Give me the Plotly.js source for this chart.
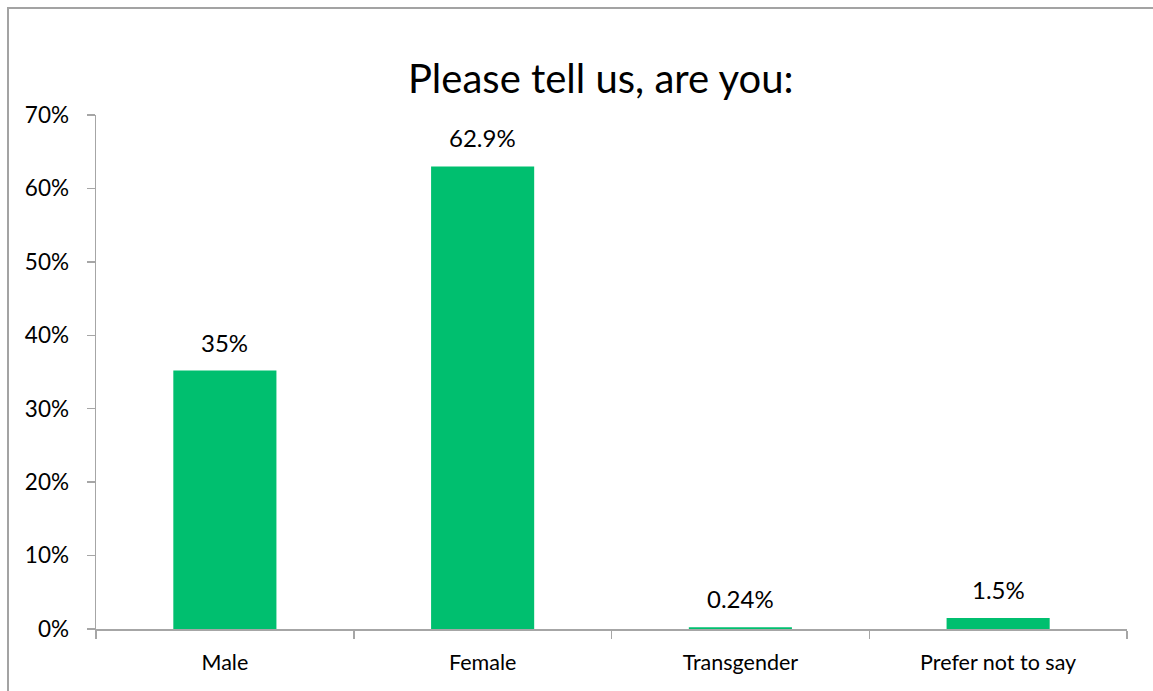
<!DOCTYPE html>
<html>
<head>
<meta charset="utf-8">
<script src="https://cdn.plot.ly/plotly-3.0.1.min.js"></script>
<style>
html,body{margin:0;padding:0;background:#fff;overflow:hidden;}
#frame{position:absolute;left:7px;top:7px;width:1200px;height:800px;border-top:2px solid #A3A3A3;border-left:2px solid #A3A3A3;pointer-events:none;z-index:5;}
#chart{position:absolute;left:0;top:0;width:1153px;height:691px;}
</style>
</head>
<body>
<div id="chart"></div>
<div id="frame"></div>
<script>
const categories = ["Male", "Female", "Transgender", "Prefer not to say"];
const values = [35.2, 63.0, 0.24, 1.5];
const valueLabels = ["35%", "62.9%", "0.24%", "1.5%"];
const yTickVals = [0, 10, 20, 30, 40, 50, 60, 70];
const yTickText = ["0%", "10%", "20%", "30%", "40%", "50%", "60%", "70%"];

const fontFam = "Lato, 'Open Sans', sans-serif";

const trace = {
  type: "bar",
  x: categories,
  y: values,
  width: 0.4,
  marker: {color: "#00BF6F"},
  hoverinfo: "skip"
};

const annotations = categories.map((c, i) => ({
  x: c, y: values[i], xref: "x", yref: "y",
  text: valueLabels[i], showarrow: false,
  yanchor: "bottom", yshift: 12,
  font: {family: fontFam, size: 24, color: "#000"}
}));

const layout = {
  width: 1153, height: 691,
  margin: {l: 96, r: 26, t: 115, b: 62},
  paper_bgcolor: "#fff", plot_bgcolor: "#fff",
  showlegend: false,
  title: {text: "Please tell us, are you:", x: 0.521, xanchor: "center", y: 0.885, yanchor: "middle",
          font: {family: fontFam, size: 40, color: "#000"}},
  xaxis: {
    type: "category",
    showgrid: false, zeroline: false,
    showline: true, linecolor: "#A6A6A6", linewidth: 1.5,
    ticks: "outside", ticklen: 8, tickcolor: "#A6A6A6", tickwidth: 1.5,
    tickson: "boundaries",
    ticklabelstandoff: 14,
    tickfont: {family: fontFam, size: 21.5, color: "#000"},
    fixedrange: true
  },
  yaxis: {
    range: [0, 70],
    tickvals: yTickVals, ticktext: yTickText,
    showgrid: false, zeroline: false,
    showline: true, linecolor: "#A6A6A6", linewidth: 1.5,
    ticks: "outside", ticklen: 8, tickcolor: "#A6A6A6", tickwidth: 1.5,
    ticklabelstandoff: 13,
    tickfont: {family: fontFam, size: 22.5, color: "#000"},
    fixedrange: true
  },
  annotations: annotations
};

Plotly.newPlot("chart", [trace], layout, {displayModeBar: false, staticPlot: true});
</script>
</body>
</html>
